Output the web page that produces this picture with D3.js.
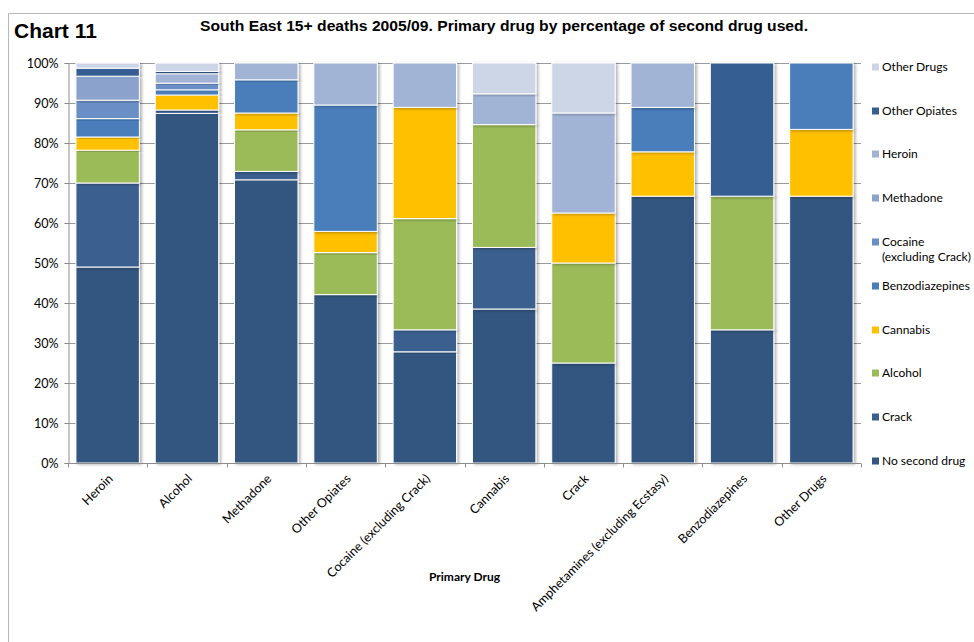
<!DOCTYPE html>
<html>
<head>
<meta charset="utf-8">
<script src="https://cdn.jsdelivr.net/npm/d3@7"></script>
<style>
  html, body { margin: 0; padding: 0; background: #fff; }
  svg { display: block; }
  .tick text { font-family: Lato, "Open Sans", sans-serif; font-size: 12.5px; fill: #000; }
</style>
</head>
<body>
<svg id="chart" width="974" height="642"></svg>
<script>
// Primary drug categories (x axis)
const categories = [
  "Heroin", "Alcohol", "Methadone", "Other Opiates", "Cocaine (excluding Crack)",
  "Cannabis", "Crack", "Amphetamines (excluding Ecstasy)", "Benzodiazepines", "Other Drugs"
];

// Second drug used: percentage of deaths per primary drug (stack order, bottom to top)
const noSecondDrug   = [49.0, 87.4, 70.8, 42.1, 27.8, 38.5, 25.0, 66.7, 33.3, 66.7];
const crack          = [21.0, 0.85, 2.1, 0, 5.5, 15.4, 0, 0, 0, 0];
const alcohol        = [8.2, 0, 10.4, 10.5, 27.8, 30.7, 25.0, 0, 33.4, 0];
const cannabis       = [3.3, 3.75, 4.2, 5.3, 27.8, 0, 12.5, 11.1, 0, 16.7];
const benzodiazepines= [4.6, 1.3, 8.3, 31.6, 0, 0, 0, 11.1, 0, 16.6];
const cocaine        = [4.6, 1.65, 0, 0, 0, 0, 0, 0, 0, 0];
const methadone      = [6.0, 0, 0, 0, 0, 0, 0, 0, 0, 0];
const heroin         = [0, 2.35, 4.2, 10.5, 11.1, 7.7, 25.0, 11.1, 0, 0];
const otherOpiates   = [2.0, 0.6, 0, 0, 0, 0, 0, 0, 33.3, 0];
const otherDrugs     = [1.3, 2.1, 0, 0, 0, 7.7, 12.5, 0, 0, 0];

const seriesNames = [
  "No second drug", "Crack", "Alcohol", "Cannabis", "Benzodiazepines",
  "Cocaine (excluding Crack)", "Methadone", "Heroin", "Other Opiates", "Other Drugs"
];
const seriesValues = [
  noSecondDrug, crack, alcohol, cannabis, benzodiazepines,
  cocaine, methadone, heroin, otherOpiates, otherDrugs
];
const seriesColors = [
  "#33567f", "#3b5f8f", "#9bbb59", "#ffc000", "#4a7ebb",
  "#6a8fc6", "#8ba3cc", "#a2b4d6", "#365f93", "#cdd6e7"
];

const yTicks = [0, 10, 20, 30, 40, 50, 60, 70, 80, 90, 100];

// Build a row per category for d3.stack
const rows = categories.map((c, i) => {
  const r = { category: c };
  seriesNames.forEach((s, j) => { r[s] = seriesValues[j][i]; });
  return r;
});

const svg = d3.select("#chart");

// Outer frame
svg.append("path")
  .attr("d", "M8.5,642 L8.5,13.5 L974,13.5")
  .attr("fill", "none").attr("stroke", "#b8b8b8").attr("stroke-width", 1);

// Titles
svg.append("text")
  .attr("x", 14).attr("y", 38)
  .attr("font-family", "Liberation Sans, Arial, sans-serif")
  .attr("font-weight", "bold").attr("font-size", 21)
  .text("Chart 11");
svg.append("text")
  .attr("x", 200).attr("y", 31)
  .attr("font-family", "Liberation Sans, Arial, sans-serif")
  .attr("font-weight", "bold").attr("font-size", 14)
  .attr("textLength", 608).attr("lengthAdjust", "spacingAndGlyphs")
  .text("South East 15+ deaths 2005/09. Primary drug by percentage of second drug used.");

const plot = { left: 68, right: 861, top: 63, bottom: 463 };

const x = d3.scaleBand()
  .domain(categories)
  .range([plot.left, plot.right])
  .paddingInner(0.2)
  .paddingOuter(0.1);

const y = d3.scaleLinear()
  .domain([0, 100])
  .range([plot.bottom, plot.top]);

// Drop shadow for columns
const defs = svg.append("defs");
const f = defs.append("filter").attr("id", "shadow")
  .attr("x", "-10%").attr("y", "-10%").attr("width", "130%").attr("height", "120%");
f.append("feDropShadow").attr("dx", 2).attr("dy", 1).attr("stdDeviation", 1.5)
  .attr("flood-color", "#000").attr("flood-opacity", 0.3);

// Gridlines
svg.append("g")
  .selectAll("line")
  .data(yTicks.filter(t => t > 0))
  .join("line")
  .attr("x1", plot.left).attr("x2", plot.right)
  .attr("y1", d => Math.round(y(d)) + 0.5).attr("y2", d => Math.round(y(d)) + 0.5)
  .attr("stroke", "#9a9a9a").attr("stroke-width", 1);

// Stacked columns
const stack = d3.stack().keys(seriesNames);
const stacked = stack(rows);

const cols = svg.append("g");
stacked.forEach((layer, j) => {
  cols.append("g")
    .attr("fill", seriesColors[j])
    .selectAll("rect")
    .data(layer.filter(d => d[1] - d[0] > 0))
    .join("rect")
    .attr("x", d => x(d.data.category))
    .attr("width", x.bandwidth())
    .attr("y", d => y(d[1]))
    .attr("height", d => y(d[0]) - y(d[1]))
    .attr("stroke", "#ffffff")
    .attr("stroke-width", 1)
    .attr("filter", "url(#shadow)");
});

// Y axis
const yAxis = d3.axisLeft(y)
  .tickValues(yTicks)
  .tickFormat(d => d + "%")
  .tickSize(4)
  .tickPadding(6);
const gy = svg.append("g")
  .attr("transform", `translate(${plot.left + 0.5},0)`)
  .call(yAxis);
gy.select(".domain").attr("stroke", "#8c8c8c");
gy.selectAll(".tick line").attr("stroke", "#8c8c8c");

// X axis with ticks at band boundaries
const gx = svg.append("g")
  .attr("transform", `translate(0,${plot.bottom + 0.5})`);
gx.append("line")
  .attr("x1", plot.left).attr("x2", plot.right)
  .attr("stroke", "#8c8c8c");
const step = x.step();
const bounds = d3.range(categories.length + 1).map(i => plot.left + i * step);
gx.selectAll("line.tk")
  .data(bounds)
  .join("line")
  .attr("class", "tk")
  .attr("x1", d => Math.round(d) + 0.5).attr("x2", d => Math.round(d) + 0.5)
  .attr("y1", 0).attr("y2", 4)
  .attr("stroke", "#8c8c8c");
gx.selectAll("text")
  .data(categories)
  .join("text")
  .attr("transform", d => `translate(${x(d) + x.bandwidth() / 2 + 6},${16}) rotate(-45)`)
  .attr("text-anchor", "end")
  .attr("font-family", "Lato, 'Open Sans', sans-serif")
  .attr("font-size", 12.5)
  .text(d => d);

// X axis title
svg.append("text")
  .attr("x", (plot.left + plot.right) / 2).attr("y", 581)
  .attr("text-anchor", "middle")
  .attr("font-family", "Lato, 'Open Sans', sans-serif")
  .attr("font-weight", "bold").attr("font-size", 12)
  .text("Primary Drug");

// Legend (top item is last stacked series)
const legendY = [67, 111, 154, 198, 242, 286, 330, 373, 417, 461];
const legend = svg.append("g");
const legendOrder = seriesNames.map((s, j) => j).reverse();
legendOrder.forEach((j, k) => {
  const g = legend.append("g").attr("transform", `translate(0,${legendY[k]})`);
  g.append("rect")
    .attr("x", 872).attr("y", -3.5).attr("width", 7).attr("height", 7)
    .attr("fill", seriesColors[j]);
  const t = g.append("text")
    .attr("x", 882).attr("y", 4)
    .attr("font-family", "Lato, 'Open Sans', sans-serif")
    .attr("font-size", 12);
  if (seriesNames[j] === "Cocaine (excluding Crack)") {
    t.append("tspan").attr("x", 882).text("Cocaine");
    t.append("tspan").attr("x", 882).attr("dy", 15).text("(excluding Crack)");
  } else {
    t.text(seriesNames[j]);
  }
});
</script>
</body>
</html>
